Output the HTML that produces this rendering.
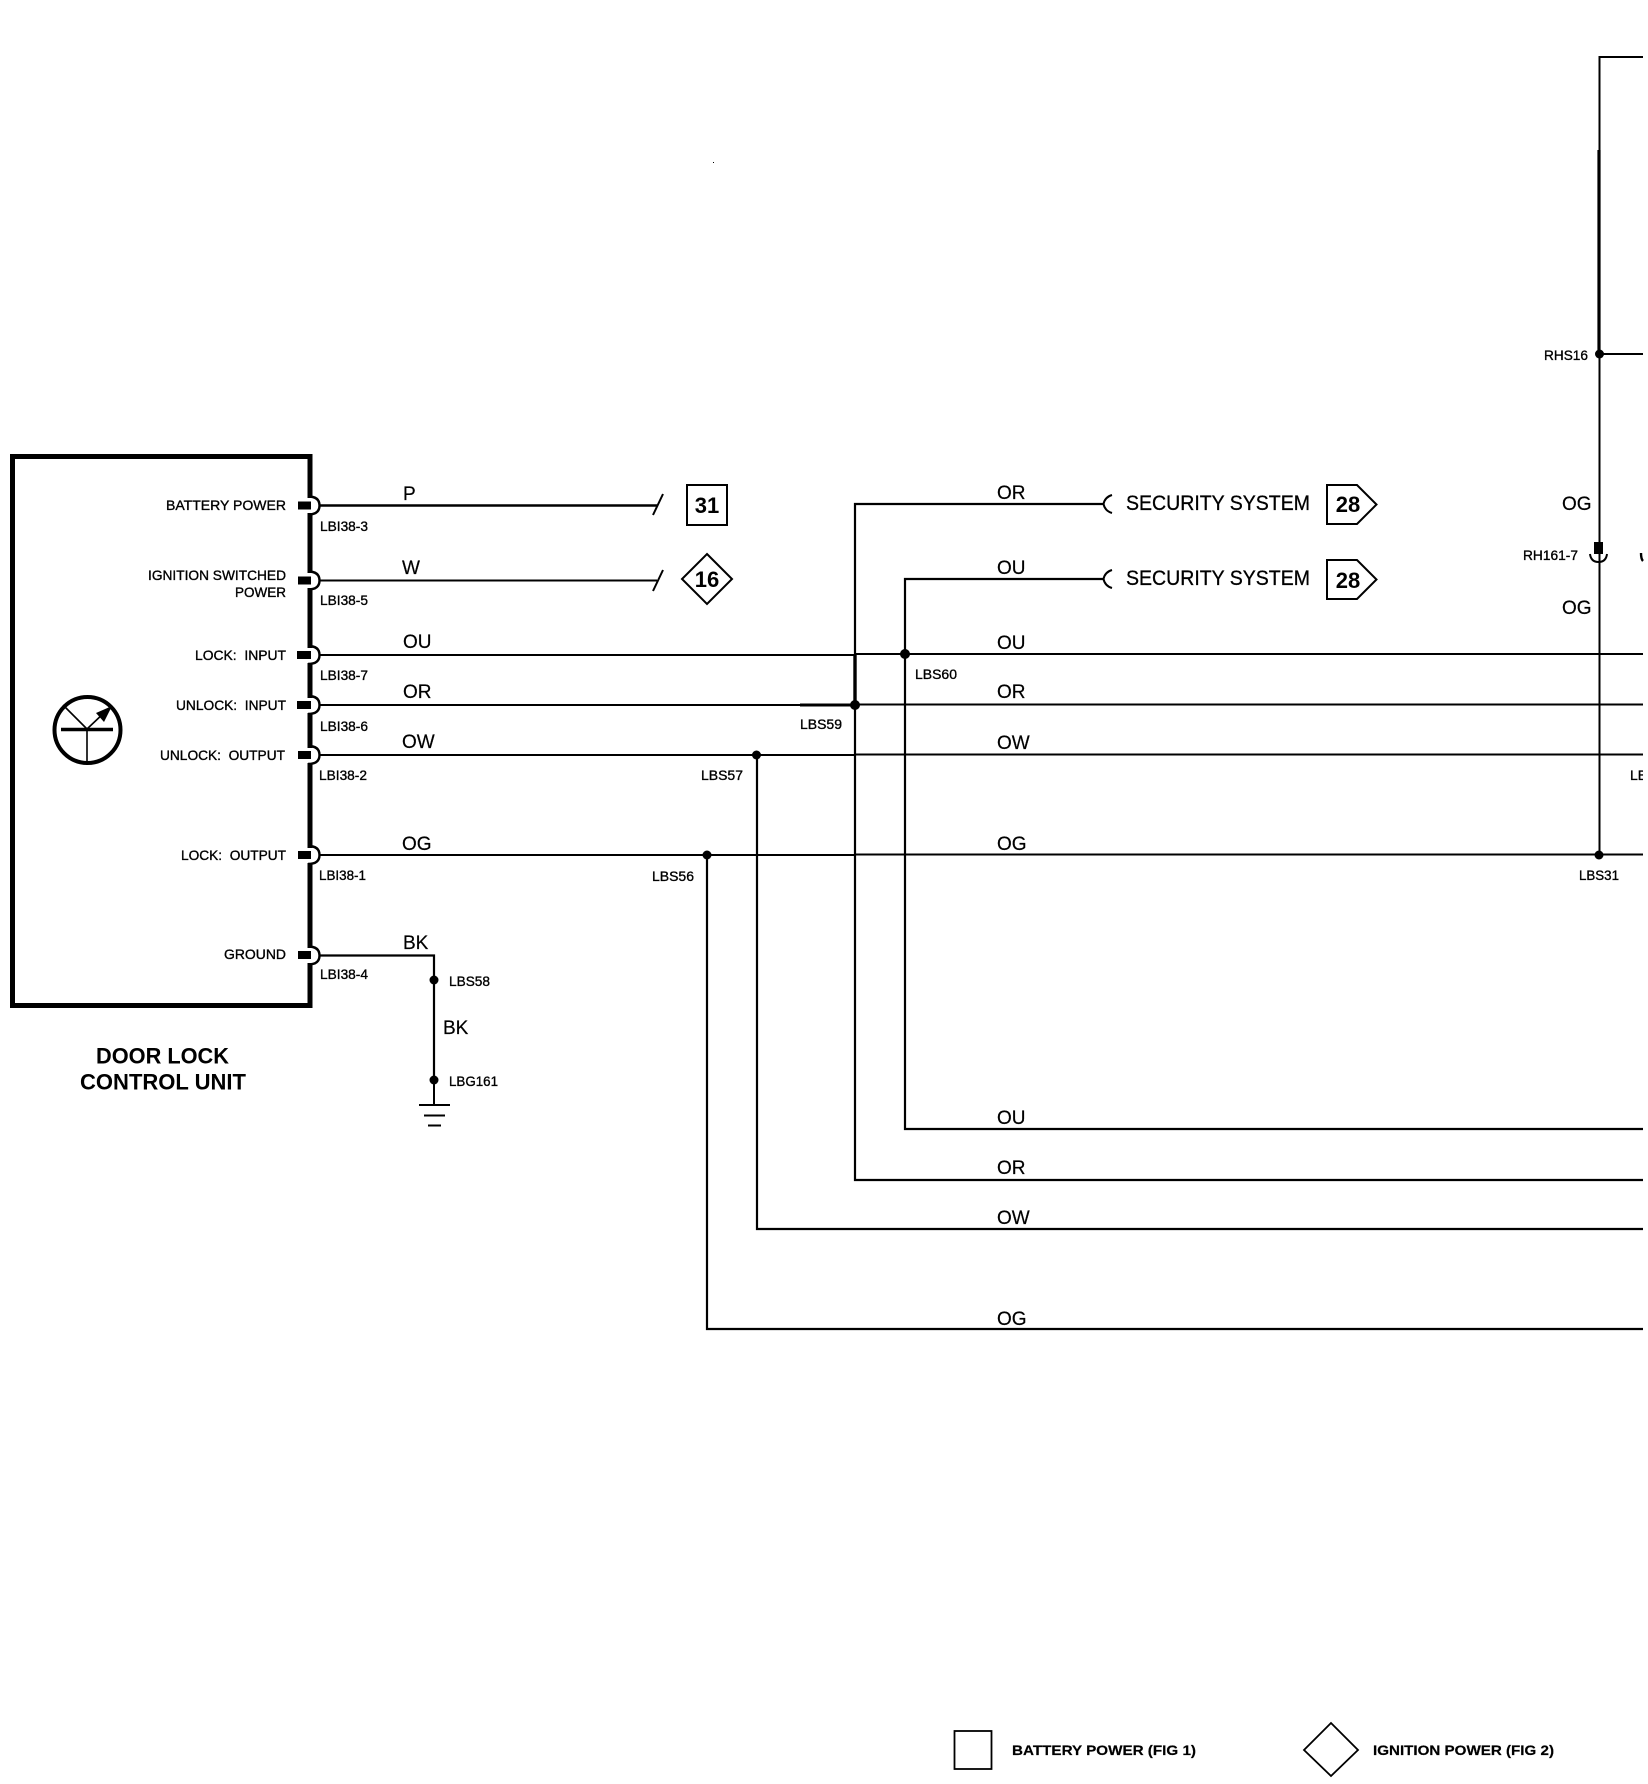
<!DOCTYPE html>
<html><head><meta charset="utf-8"><style>
html,body{margin:0;padding:0;background:#fff}
svg{display:block}
text{font-family:"Liberation Sans",sans-serif;fill:#000}
.s{font-size:14px;stroke:#000;stroke-width:.35}
.w{font-size:19px;stroke:#000;stroke-width:.2}
.b{font-size:22px;font-weight:bold}
.l{font-size:14px;font-weight:bold;stroke:#000;stroke-width:.2}
.t{font-size:21px;stroke:#000;stroke-width:.3}
</style></head><body>
<svg width="1648" height="1784" viewBox="0 0 1648 1784" xmlns="http://www.w3.org/2000/svg">
<rect width="1648" height="1784" fill="#fff"/>
<rect x="713" y="162" width="1" height="1" fill="#000"/>

<!-- control unit -->
<rect x="12.5" y="456.500" width="297.500" height="549" fill="none" stroke="#000" stroke-width="5"/>
<circle cx="87.500" cy="730" r="33" fill="none" stroke="#000" stroke-width="4"/>
<path d="M61 729.500H113" stroke="#000" stroke-width="3.500" fill="none"/>
<path d="M87 729L63 705M87 729V765M87 729L106 711" stroke="#000" stroke-width="1.600" fill="none"/>
<path d="M112 706L104 722L96 713Z" fill="#000"/>

<!-- pins: white notch in the border, open arc, terminal block -->
<g fill="#fff" stroke="none">
<rect x="306" y="498" width="9" height="15"/>
<rect x="306" y="573" width="9" height="15"/>
<rect x="306" y="648" width="9" height="15"/>
<rect x="306" y="698" width="9" height="15"/>
<rect x="306" y="748" width="9" height="15"/>
<rect x="306" y="848" width="9" height="15"/>
<rect x="306" y="948" width="9" height="15"/>
</g>
<g fill="none" stroke="#000" stroke-width="2.400">
<path d="M308 496.500Q319.500 496.500 319.500 505.500Q319.500 514.500 308 514.500"/>
<path d="M308 571.500Q319.500 571.500 319.500 580.500Q319.500 589.500 308 589.500"/>
<path d="M308 646Q319.500 646 319.500 655Q319.500 664 308 664"/>
<path d="M308 696Q319.500 696 319.500 705Q319.500 714 308 714"/>
<path d="M308 746Q319.500 746 319.500 755Q319.500 764 308 764"/>
<path d="M308 846Q319.500 846 319.500 855Q319.500 864 308 864"/>
<path d="M308 946.500Q319.500 946.500 319.500 955.500Q319.500 964.500 308 964.500"/>
</g>
<g fill="#000">
<rect x="298" y="501.500" width="13" height="8"/>
<rect x="298" y="576.500" width="13" height="8"/>
<rect x="297" y="651" width="14" height="8"/>
<rect x="297" y="701" width="14" height="8"/>
<rect x="298" y="751" width="13" height="8"/>
<rect x="298" y="851" width="13" height="8"/>
<rect x="298" y="951" width="13" height="8"/>
</g>

<!-- wires -->
<g fill="none" stroke="#000" stroke-width="2">
<path d="M320 505.500H657" stroke-width="2.400"/>
<path d="M320 580.500H657"/>
<path d="M653 515L663 494M653 591L663 570"/>
<path d="M320 655H855V654H1643"/>
<path d="M320 705H855V704.500H1643"/>
<path d="M320 755H855V754.500H1643"/>
<path d="M320 855H855V854.500H1643"/>
<path d="M320 955.500H434V1080" stroke-width="2.200"/>
<path d="M434 1080V1104"/>
<path d="M419 1105H450M424 1115.500H445M428 1125.500H441"/>
<path d="M1103 504H855V1180H1643" stroke-width="2.200"/>
<path d="M1103 579H905V1129H1643" stroke-width="2.200"/>
<path d="M855 654V705" stroke-width="3.400"/>
<path d="M800 705H855" stroke-width="3"/>
<path d="M757 755V1229H1643" stroke-width="2.200"/>
<path d="M707 855V1329H1643" stroke-width="2.200"/>
<path d="M1643 57H1599.500V855"/>
<path d="M1599 150V354" stroke-width="3.200"/>
<path d="M1599 354H1643"/>
<path d="M1112 495Q1105 497 1103.500 504Q1105 511 1112 513"/>
<path d="M1112 570Q1105 572 1103.500 579Q1105 586 1112 588"/>
<path d="M1590 554Q1591 562 1598.500 562Q1606 562 1607 554"/>
<path d="M1641 553Q1641 559 1643 561" stroke-width="2.400"/>
</g>
<g fill="#000">
<circle cx="905" cy="654" r="5"/>
<circle cx="855" cy="705" r="5"/>
<circle cx="756.500" cy="755" r="4.500"/>
<circle cx="707" cy="855" r="4.500"/>
<circle cx="434" cy="980" r="4.500"/>
<circle cx="434" cy="1080" r="4.500"/>
<circle cx="1599" cy="855" r="4.500"/>
<circle cx="1599.500" cy="354" r="4.500"/>
<rect x="1594" y="542" width="9" height="12"/>
</g>

<!-- reference symbols -->
<g fill="#fff" stroke="#000" stroke-width="2">
<rect x="687" y="485" width="40" height="40"/>
<path d="M707 554L732 579L707 604L682 579Z"/>
<path d="M1327 485H1357L1376.500 504.500L1357 524H1327Z"/>
<path d="M1327 560H1357L1376.500 579.500L1357 599H1327Z"/>
<rect x="954.500" y="1731" width="37" height="38" stroke-width="1.800"/>
<path d="M1331 1723L1358 1750L1331 1776L1304 1750Z" stroke-width="1.800"/>
</g>
<g text-anchor="middle">
<text class="b" x="707" y="513">31</text>
<text class="b" x="707" y="587">16</text>
<text class="b" x="1348" y="512">28</text>
<text class="b" x="1348" y="588">28</text>
</g>

<!-- pin labels -->
<text class="s" x="166" y="510" textLength="120" lengthAdjust="spacingAndGlyphs">BATTERY POWER</text>
<text class="s" x="148" y="580" textLength="138" lengthAdjust="spacingAndGlyphs">IGNITION SWITCHED</text>
<text class="s" x="235" y="597" textLength="51" lengthAdjust="spacingAndGlyphs">POWER</text>
<text class="s" x="195" y="660" textLength="91" lengthAdjust="spacingAndGlyphs">LOCK:&#160; INPUT</text>
<text class="s" x="176" y="710" textLength="110" lengthAdjust="spacingAndGlyphs">UNLOCK:&#160; INPUT</text>
<text class="s" x="160" y="760" textLength="125" lengthAdjust="spacingAndGlyphs">UNLOCK:&#160; OUTPUT</text>
<text class="s" x="181" y="860" textLength="105" lengthAdjust="spacingAndGlyphs">LOCK:&#160; OUTPUT</text>
<text class="s" x="224" y="959" textLength="62" lengthAdjust="spacingAndGlyphs">GROUND</text>

<text class="s" x="320" y="531" textLength="48" lengthAdjust="spacingAndGlyphs">LBI38-3</text>
<text class="s" x="320" y="605" textLength="48" lengthAdjust="spacingAndGlyphs">LBI38-5</text>
<text class="s" x="320" y="680" textLength="48" lengthAdjust="spacingAndGlyphs">LBI38-7</text>
<text class="s" x="320" y="731" textLength="48" lengthAdjust="spacingAndGlyphs">LBI38-6</text>
<text class="s" x="319" y="780" textLength="48" lengthAdjust="spacingAndGlyphs">LBI38-2</text>
<text class="s" x="319" y="880" textLength="47" lengthAdjust="spacingAndGlyphs">LBI38-1</text>
<text class="s" x="320" y="979" textLength="48" lengthAdjust="spacingAndGlyphs">LBI38-4</text>

<text class="s" x="449" y="986" textLength="41" lengthAdjust="spacingAndGlyphs">LBS58</text>
<text class="s" x="449" y="1086" textLength="49" lengthAdjust="spacingAndGlyphs">LBG161</text>
<text class="s" x="915" y="679" textLength="42" lengthAdjust="spacingAndGlyphs">LBS60</text>
<text class="s" x="800" y="729" textLength="42" lengthAdjust="spacingAndGlyphs">LBS59</text>
<text class="s" x="701" y="780" textLength="42" lengthAdjust="spacingAndGlyphs">LBS57</text>
<text class="s" x="652" y="881" textLength="42" lengthAdjust="spacingAndGlyphs">LBS56</text>
<text class="s" x="1579" y="880" textLength="40" lengthAdjust="spacingAndGlyphs">LBS31</text>
<text class="s" x="1544" y="360" textLength="44" lengthAdjust="spacingAndGlyphs">RHS16</text>
<text class="s" x="1523" y="560" textLength="55" lengthAdjust="spacingAndGlyphs">RH161-7</text>
<text class="s" x="1630" y="780">LB</text>
<rect x="1643" y="760" width="5" height="30" fill="#fff"/>

<!-- wire colour labels -->
<text class="w" x="403" y="500">P</text>
<text class="w" x="402" y="574">W</text>
<text class="w" x="403" y="648">OU</text>
<text class="w" x="403" y="698">OR</text>
<text class="w" x="402" y="748">OW</text>
<text class="w" x="402" y="850">OG</text>
<text class="w" x="403" y="949">BK</text>
<text class="w" x="443" y="1034">BK</text>
<text class="w" x="997" y="499">OR</text>
<text class="w" x="997" y="574">OU</text>
<text class="w" x="997" y="649">OU</text>
<text class="w" x="997" y="698">OR</text>
<text class="w" x="997" y="749">OW</text>
<text class="w" x="997" y="850">OG</text>
<text class="w" x="997" y="1124">OU</text>
<text class="w" x="997" y="1174">OR</text>
<text class="w" x="997" y="1224">OW</text>
<text class="w" x="997" y="1325">OG</text>
<text class="w" x="1562" y="510">OG</text>
<text class="w" x="1562" y="614">OG</text>

<text class="t" x="1126" y="510" textLength="184" lengthAdjust="spacingAndGlyphs">SECURITY SYSTEM</text>
<text class="t" x="1126" y="585" textLength="184" lengthAdjust="spacingAndGlyphs">SECURITY SYSTEM</text>

<text class="b" x="96" y="1063.500" textLength="133" lengthAdjust="spacingAndGlyphs">DOOR LOCK</text>
<text class="b" x="80" y="1089.500" textLength="166" lengthAdjust="spacingAndGlyphs">CONTROL UNIT</text>

<text class="l" x="1012" y="1755" textLength="184" lengthAdjust="spacingAndGlyphs">BATTERY POWER (FIG 1)</text>
<text class="l" x="1373" y="1755" textLength="181" lengthAdjust="spacingAndGlyphs">IGNITION POWER (FIG 2)</text>
</svg>
</body></html>
